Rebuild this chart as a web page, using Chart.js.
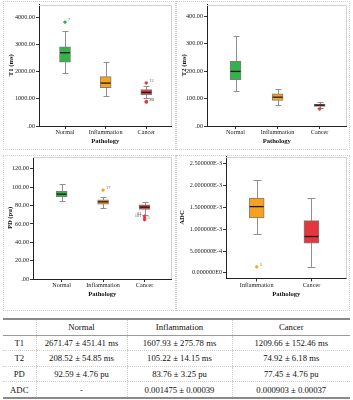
<!DOCTYPE html>
<html>
<head>
<meta charset="utf-8">
<script src="https://cdn.jsdelivr.net/npm/chart.js@4.4.1/dist/chart.umd.min.js"></script>
<style>
body { margin: 0; background: #fff; width: 353px; height: 400px; position: relative; overflow: hidden; font-family: 'Liberation Serif', serif; }
.panel { position: absolute; border: 1px dotted #cfcfcf; box-sizing: border-box; }
canvas { position: absolute; }
table { position: absolute; left: 3px; top: 318px; width: 347px; border-collapse: collapse; font-size: 8.7px; color: #111; border-top: 2px solid #8a8a8a; border-bottom: 2px solid #8a8a8a; table-layout: fixed; }
th, td { text-align: center; height: 14.6px; padding: 0; font-weight: normal; border-left: 1px dotted #cfcfcf; border-bottom: 1px dotted #cfcfcf; }
th:first-child, td:first-child { border-left: none; }
th { border-bottom: 1px solid #9a9a9a; }
</style>
</head>
<body>
<div class="panel" style="left:3px;top:1px;width:173px;height:149px"></div>
<div class="panel" style="left:176px;top:1px;width:174px;height:149px"></div>
<div class="panel" style="left:3px;top:155px;width:173px;height:156px"></div>
<div class="panel" style="left:176px;top:155px;width:174px;height:156px"></div>
<canvas id="t1" width="176" height="150" style="left:0;top:0"></canvas>
<canvas id="t2" width="175" height="150" style="left:176px;top:0"></canvas>
<canvas id="pd" width="176" height="150" style="left:0;top:152px"></canvas>
<canvas id="adc" width="175" height="150" style="left:176px;top:152px"></canvas>
<table id="tbl">
  <colgroup><col style="width:33px"><col style="width:91px"><col style="width:105px"><col style="width:118px"></colgroup>
  <thead></thead>
  <tbody></tbody>
</table>
<script>
// groups
const categories = ['Normal', 'Inflammation', 'Cancer'];
const adcCategories = ['Inflammation', 'Cancer'];
const groupColors = ['#35b34a', '#f7a21e', '#e4363d'];
const adcColors = ['#f7a21e', '#e4363d'];

// T1 (ms)
const t1Min = [1956, 1088, 1026];
const t1Q1 = [2344, 1407, 1150];
const t1Median = [2689, 1575, 1234];
const t1Q3 = [2908, 1810, 1333];
const t1Max = [3480, 2359, 1465];
const t1Outliers = [[3810], [], [1580, 905, 875]];
const t1OutlierIds = [['7'], [], ['12', '37', '70']];
const t1Ticks = [0, 1000, 2000, 3000, 4000];
const t1TickLabels = ['.00', '1000.00', '2000.00', '3000.00', '4000.00'];

// T2 (ms)
const t2Min = [128, 78, 66];
const t2Q1 = [169, 93, 71];
const t2Median = [199, 105, 76];
const t2Q3 = [237, 117, 80];
const t2Max = [328, 136, 86];
const t2Outliers = [[], [], [62]];
const t2OutlierIds = [[], [], ['']];
const t2Ticks = [0, 100, 200, 300, 400];
const t2TickLabels = ['.00', '100.00', '200.00', '300.00', '400.00'];

// PD (pu)
const pdMin = [84.8, 77.5, 70.2];
const pdQ1 = [89.5, 81.5, 75.7];
const pdMedian = [92.4, 84.0, 78.2];
const pdQ3 = [95.3, 86.2, 80.7];
const pdMax = [103.6, 89.1, 83.3];
const pdOutliers = [[], [96.8], [68.5, 66.5, 64.5]];
const pdOutlierIds = [[], ['17'], ['84', '101', '5']];
const pdTicks = [0, 20, 40, 60, 80, 100, 120];
const pdTickLabels = ['.00', '20.00', '40.00', '60.00', '80.00', '100.00', '120.00'];

// ADC
const adcMin = [0.00090, 0.000123];
const adcQ1 = [0.001258, 0.000679];
const adcMedian = [0.001518, 0.000832];
const adcQ3 = [0.001715, 0.001198];
const adcMax = [0.002136, 0.001724];
const adcOutliers = [[0.000137], []];
const adcOutlierIds = [['5'], []];
const adcTicks = [0, 0.0005, 0.001, 0.0015, 0.002, 0.0025];
const adcTickLabels = ['0.000000E0', '5.000000E-4', '1.000000E-3', '1.500000E-3', '2.000000E-3', '2.500000E-3'];

// table
const tableHeader = ['', 'Normal', 'Inflammation', 'Cancer'];
const tableRows = [
    ['T1', '2671.47 ± 451.41 ms', '1607.93 ± 275.78 ms', '1209.66 ± 152.46 ms'],
    ['T2', '208.52 ± 54.85 ms', '105.22 ± 14.15 ms', '74.92 ± 6.18 ms'],
    ['PD', '92.59 ± 4.76 pu', '83.76 ± 3.25 pu', '77.45 ± 4.76 pu'],
    ['ADC', '-', '0.001475 ± 0.00039', '0.000903 ± 0.00037']
];

const FONT = "'Liberation Serif', 'Times New Roman', serif";

function buildBoxChart(id, d) {
    const boxes = d.cats.map((c, i) => ({ x: i + 1, y: [d.q1[i], d.q3[i]] }));
    const outPts = [], outCols = [];
    d.out.forEach((arr, i) => arr.forEach(v => { outPts.push({ x: i + 1, y: v }); outCols.push(d.colors[i]); }));

    const extras = {
        id: 'boxExtras',
        beforeDatasetsDraw(chart) {
            const { ctx, chartArea: a, scales: { x, y } } = chart;
            ctx.save();
            // light frame on top/right of plot
            ctx.strokeStyle = '#d2d2d2'; ctx.lineWidth = 1;
            ctx.beginPath();
            ctx.moveTo(a.left, Math.round(a.top) + .5);
            ctx.lineTo(Math.round(a.right) - .5, Math.round(a.top) + .5);
            ctx.lineTo(Math.round(a.right) - .5, a.bottom);
            ctx.stroke();
            // whiskers
            ctx.strokeStyle = '#8f8f8f';
            d.cats.forEach((c, i) => {
                const px = Math.round(x.getPixelForValue(i + 1)) + .5;
                const lo = Math.round(y.getPixelForValue(d.min[i])) + .5;
                const hi = Math.round(y.getPixelForValue(d.max[i])) + .5;
                ctx.beginPath();
                ctx.moveTo(px, lo); ctx.lineTo(px, hi);
                ctx.moveTo(px - d.cap / 2, lo); ctx.lineTo(px + d.cap / 2, lo);
                ctx.moveTo(px - d.cap / 2, hi); ctx.lineTo(px + d.cap / 2, hi);
                ctx.stroke();
            });
            ctx.restore();
        },
        afterDatasetsDraw(chart) {
            const { ctx, scales: { x, y } } = chart;
            const meta = chart.getDatasetMeta(0);
            ctx.save();
            ctx.strokeStyle = '#1a1a1a'; ctx.lineWidth = 1.3;
            meta.data.forEach((bar, i) => {
                const py = y.getPixelForValue(d.median[i]);
                ctx.beginPath();
                ctx.moveTo(bar.x - bar.width / 2 + .5, py); ctx.lineTo(bar.x + bar.width / 2 - .5, py);
                ctx.stroke();
            });
            // outlier case labels
            ctx.fillStyle = '#666'; ctx.font = '4.5px ' + FONT; ctx.textBaseline = 'middle';
            d.out.forEach((arr, i) => arr.forEach((v, k) => {
                const id = d.ids[i][k];
                if (!id) return;
                const px = x.getPixelForValue(i + 1), py = y.getPixelForValue(v);
                const left = d.labelLeft && d.labelLeft[i] && d.labelLeft[i][k];
                ctx.textAlign = left ? 'right' : 'left';
                ctx.fillText(id, left ? px - 3 : px + 3, py - 2);
            }));
            ctx.restore();
        }
    };

    return new Chart(document.getElementById(id), {
        type: 'bar',
        data: {
            datasets: [{
                data: boxes,
                backgroundColor: d.colors,
                borderColor: '#7d7d7d',
                borderWidth: 1,
                borderSkipped: false,
                barThickness: d.boxW
            }, {
                type: 'scatter',
                data: outPts,
                pointBackgroundColor: outCols,
                pointBorderColor: outCols,
                pointRadius: 1.4,
                pointBorderWidth: 0.5
            }]
        },
        options: {
            responsive: false,
            animation: false,
            layout: { padding: d.pad },
            plugins: { legend: { display: false }, tooltip: { enabled: false } },
            scales: {
                x: {
                    type: 'linear', offset: false, min: d.xMin, max: d.xMax,
                    afterBuildTicks: s => { s.ticks = d.cats.map((c, i) => ({ value: i + 1 })); },
                    afterFit: s => { s.height = d.xH; s.paddingLeft = 0; s.paddingRight = 0; },
                    ticks: { callback: v => d.cats[v - 1], font: { family: FONT, size: 6.2 }, color: '#222', padding: 0, maxRotation: 0, autoSkip: false },
                    grid: { display: true, drawOnChartArea: false, drawTicks: true, tickLength: 3, color: '#333', offset: false },
                    border: { color: '#222', width: 1 },
                    title: { display: true, text: 'Pathology', font: { family: FONT, size: 6.6, weight: 'bold' }, color: '#111', padding: { top: 0, bottom: d.xTitlePad } }
                },
                y: {
                    min: d.yMin, max: d.yMax,
                    afterBuildTicks: s => { s.ticks = d.ticks.map(v => ({ value: v })); },
                    afterFit: s => { s.width = d.yW; s.paddingTop = 0; s.paddingBottom = 0; },
                    ticks: { callback: v => d.tickLabels[d.ticks.indexOf(v)], font: { family: FONT, size: 6.2 }, color: '#222', padding: 1 },
                    grid: { display: true, drawOnChartArea: false, drawTicks: true, tickLength: 3, color: '#333' },
                    border: { color: '#222', width: 1 },
                    title: { display: true, text: d.yTitle, font: { family: FONT, size: 6.6, weight: 'bold' }, color: '#111', padding: { top: d.yTitlePad, bottom: 0 } }
                }
            }
        },
        plugins: [extras]
    });
}

buildBoxChart('t1', {
    cats: categories, colors: groupColors,
    min: t1Min, q1: t1Q1, median: t1Median, q3: t1Q3, max: t1Max, out: t1Outliers, ids: t1OutlierIds,
    ticks: t1Ticks, tickLabels: t1TickLabels, yMin: 0, yMax: 4460, yTitle: 'T1 (ms)',
    xMin: 0.36, xMax: 3.62, boxW: 11, cap: 6,
    pad: { left: 0, top: 4, right: 4, bottom: 0 }, yW: 39, xH: 24, xTitlePad: 5, yTitlePad: 7
});
buildBoxChart('t2', {
    cats: categories, colors: groupColors,
    min: t2Min, q1: t2Q1, median: t2Median, q3: t2Q3, max: t2Max, out: t2Outliers, ids: t2OutlierIds,
    ticks: t2Ticks, tickLabels: t2TickLabels, yMin: 0, yMax: 443, yTitle: 'T2 (ms)',
    xMin: 0.32, xMax: 3.64, boxW: 11, cap: 6,
    pad: { left: 0, top: 4, right: 4, bottom: 0 }, yW: 31, xH: 24, xTitlePad: 5, yTitlePad: 4
});
buildBoxChart('pd', {
    cats: categories, colors: groupColors,
    min: pdMin, q1: pdQ1, median: pdMedian, q3: pdQ3, max: pdMax, out: pdOutliers, ids: pdOutlierIds,
    labelLeft: [[], [false], [true, true, false]],
    ticks: pdTicks, tickLabels: pdTickLabels, yMin: 0, yMax: 132.8, yTitle: 'PD (pu)',
    xMin: 0.31, xMax: 3.65, boxW: 11, cap: 6,
    pad: { left: 0, top: 5, right: 3, bottom: 0 }, yW: 33, xH: 23, xTitlePad: 4, yTitlePad: 6
});
buildBoxChart('adc', {
    cats: adcCategories, colors: adcColors,
    min: adcMin, q1: adcQ1, median: adcMedian, q3: adcQ3, max: adcMax, out: adcOutliers, ids: adcOutlierIds,
    ticks: adcTicks, tickLabels: adcTickLabels, yMin: -0.00013, yMax: 0.002667, yTitle: 'ADC',
    xMin: 0.44, xMax: 2.64, boxW: 15, cap: 8,
    pad: { left: 0, top: 4, right: 3, bottom: 0 }, yW: 50, xH: 23.5, xTitlePad: 4, yTitlePad: 2
});

// table
const tbl = document.getElementById('tbl');
tbl.querySelector('thead').innerHTML = `<tr>${tableHeader.map(h => `<th>${h}</th>`).join('')}</tr>`;
tbl.querySelector('tbody').innerHTML = tableRows.map(r => `<tr>${r.map(c => `<td>${c}</td>`).join('')}</tr>`).join('');
</script>
</body>
</html>
